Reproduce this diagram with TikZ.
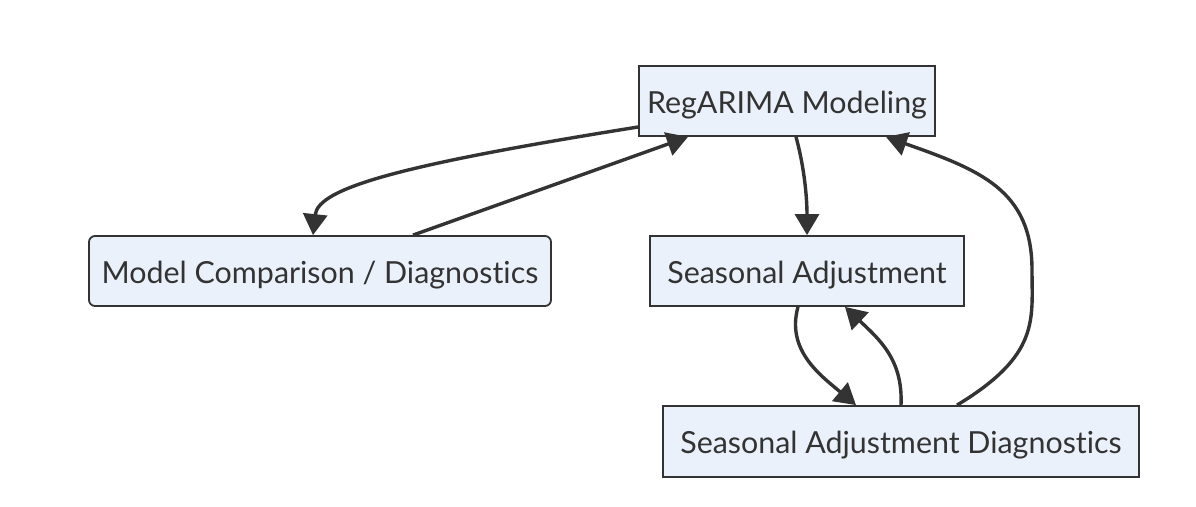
\documentclass[tikz,border=0pt]{standalone}
\usepackage{fontspec}
\setmainfont{Lato}[Ligatures=NoCommon]
\usetikzlibrary{arrows.meta}
\definecolor{boxfill}{HTML}{EAF1FB}
\definecolor{ink}{HTML}{333333}
\newcommand{\boxlabel}[1]{\raisebox{-12pt}[0pt][0pt]{#1}}
\tikzset{
  box/.style={draw=ink, line width=1.8pt, fill=boxfill, text=ink, font=\fontsize{30.4}{36}\selectfont, inner sep=0pt, anchor=center},
  link/.style={draw=ink, line width=3.4pt, -{Triangle[length=21pt,width=24pt]}},
}
\begin{document}
\begin{tikzpicture}[x=1pt,y=-1pt]
\useasboundingbox[fill=white] (0,0) rectangle (1196,506);
\node[box, minimum width=296pt, minimum height=70pt] (reg) at (787,101) {\boxlabel{RegARIMA Modeling}};
\node[box, minimum width=314pt, minimum height=70pt] (sa) at (807,271) {\boxlabel{Seasonal Adjustment}};
\node[box, rounded corners=6pt, minimum width=462pt, minimum height=70pt] (mc) at (320,271) {\boxlabel{Model Comparison / Diagnostics}};
\node[box, minimum width=476pt, minimum height=71pt] (sad) at (901,441.5) {\boxlabel{Seasonal Adjustment Diagnostics}};
\draw[link] ([yshift=-26pt]reg.west) .. controls (400,165) and (318,188) .. ([xshift=-7pt]mc.north);
\draw[link] ([xshift=93pt]mc.north) -- ([xshift=-99pt]reg.south);
\draw[link] ([xshift=9pt]reg.south) .. controls (805,170) and (807,200) .. (sa.north);
\draw[link] ([xshift=-9pt]sa.south) .. controls (786,350) and (820,375) .. ([xshift=-45pt]sad.north);
\draw[link] (sad.north) .. controls (903,360) and (880,340) .. ([xshift=38pt]sa.south);
\draw[link] ([xshift=56pt]sad.north) .. controls (1040,355) and (1032,320) .. (1032,270) .. controls (1032,190) and (980,170) .. ([xshift=99pt]reg.south);
\end{tikzpicture}
\end{document}
